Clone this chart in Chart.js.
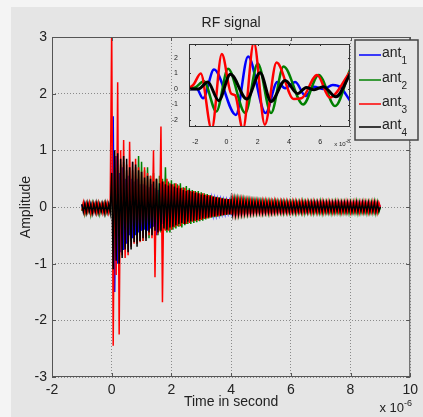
<!DOCTYPE html>
<html>
<head>
<meta charset="utf-8">
<script src="https://cdn.jsdelivr.net/npm/chart.js@4.4.1/dist/chart.umd.min.js"></script>
<style>
  html, body { margin: 0; padding: 0; background: #e5e5e5; }
  #wrap { position: relative; width: 423px; height: 417px; overflow: hidden; }
  .strip { position: absolute; background: #f4f4f4; }
  #main { position: absolute; left: 0; top: 0; }
  #inset { position: absolute; left: 170px; top: 36px; }
</style>
</head>
<body>
<div id="wrap">
  <div class="strip" style="left:0;top:0;width:11px;height:417px"></div>
  <div class="strip" style="left:0;top:0;width:423px;height:7px"></div>
  <canvas id="main" width="423" height="417"></canvas>
  <canvas id="inset" width="185" height="118"></canvas>
</div>
<script>
// ---- data ----
const names = ['ant1', 'ant2', 'ant3', 'ant4'];
const colors = ['#0000ff', '#008000', '#ff0000', '#000000'];

const xTicks = [-2, 0, 2, 4, 6, 8, 10];
const yTicks = [-3, -2, -1, 0, 1, 2, 3];

// traces sampled every 0.05 us starting at -1 us
const T0 = -1, DT = 0.05;

const ant1 = [
  0.04,-0.06,0.05,-0.07,0.04,-0.06,0.05,-0.05,0.04,-0.07,0.05,-0.06,0.04,-0.06,0.05,-0.07,0.04,-0.05,0.05,-0.06,
  0.2,1.6,-1.5,0.9,-1.0,0.6,-0.8,0.7,-0.76,0.5,-0.65,0.55,-0.5,0.5,-0.55,0.45,-0.5,0.5,-0.45,0.4,
  -0.42,0.4,-0.4,0.38,-0.42,0.35,-0.38,0.4,-0.35,0.33,-0.5,0.3,-0.32,0.32,-0.3,0.3,-0.28,0.3,-0.3,0.28,
  -0.26,0.27,-0.25,0.26,-0.24,0.25,-0.22,0.24,-0.22,0.22,-0.2,0.22,-0.2,0.2,-0.19,0.2,-0.18,0.19,-0.17,0.18,
  -0.16,0.16,-0.15,0.15,-0.14,0.14,-0.13,0.13,-0.12,0.12,-0.12,0.11,-0.11,0.11,-0.1,0.1,-0.1,0.1,-0.09,0.09,
  -0.09,0.09,-0.08,0.09,-0.08,0.08,-0.08,0.08,-0.07,0.08,-0.07,0.07,-0.07,0.07,-0.07,0.07,-0.06,0.07,-0.06,0.07,
  -0.06,0.06,-0.07,0.06,-0.06,0.07,-0.06,0.06,-0.07,0.06,-0.06,0.07,-0.06,0.06,-0.07,0.06,-0.06,0.07,-0.06,0.06,
  -0.07,0.06,-0.06,0.07,-0.06,0.06,-0.07,0.06,-0.06,0.06,-0.07,0.06,-0.06,0.07,-0.06,0.06,-0.06,0.07,-0.06,0.06,
  -0.06,0.07,-0.06,0.06,-0.07,0.06,-0.06,0.06,-0.07,0.06,-0.06,0.07,-0.06,0.06,-0.07,0.06,-0.06,0.06,-0.07,0.06,
  -0.06,0.06,-0.07,0.06,-0.06,0.07,-0.06,0.06,-0.06,0.07,-0.06,0.06,-0.07,0.06,-0.06,0.06,-0.07,0.06,-0.06,0.06,
  0
];
const ant2 = [
  -0.07,0.06,-0.12,0.05,-0.08,0.06,-0.13,0.07,-0.06,0.05,-0.1,0.06,-0.12,0.05,-0.07,0.06,-0.11,0.05,-0.08,0.06,
  0.3,-0.5,0.7,-0.8,0.6,-0.7,0.75,-0.6,0.8,-0.7,0.65,-0.75,0.7,-0.6,0.65,-0.55,0.7,-0.65,0.9,-0.6,
  0.8,-0.6,0.65,-0.5,0.7,-0.55,0.55,-0.5,0.6,-0.45,0.5,-0.5,0.55,-0.45,0.5,-0.4,0.7,-0.45,0.45,-0.45,
  0.47,-0.4,0.42,-0.38,0.4,-0.35,0.42,-0.36,0.35,-0.32,0.37,-0.3,0.33,-0.3,0.3,-0.28,0.28,-0.27,0.28,-0.25,
  0.26,-0.24,0.24,-0.22,0.23,-0.2,0.21,-0.19,0.19,-0.18,0.18,-0.17,0.17,-0.16,0.16,-0.15,0.15,-0.14,0.14,-0.13,
  0.14,-0.13,0.13,-0.12,0.13,-0.12,0.12,-0.11,0.12,-0.11,0.11,-0.11,0.11,-0.1,0.1,-0.1,0.1,-0.1,0.1,-0.09,
  0.09,-0.1,0.09,-0.09,0.09,-0.1,0.09,-0.09,0.08,-0.09,0.09,-0.09,0.08,-0.09,0.08,-0.1,0.08,-0.09,0.08,-0.09,
  0.08,-0.09,0.08,-0.1,0.08,-0.09,0.08,-0.09,0.09,-0.1,0.08,-0.09,0.08,-0.09,0.08,-0.1,0.08,-0.09,0.08,-0.09,
  0.09,-0.1,0.08,-0.09,0.08,-0.09,0.08,-0.1,0.08,-0.09,0.09,-0.09,0.08,-0.1,0.08,-0.09,0.08,-0.09,0.08,-0.1,
  0.08,-0.09,0.08,-0.09,0.09,-0.1,0.08,-0.09,0.08,-0.09,0.08,-0.1,0.08,-0.09,0.08,-0.09,0.09,-0.1,0.08,-0.09,
  0
];
const ant3 = [
  -0.06,0.08,-0.1,0.06,-0.08,0.07,-0.11,0.05,-0.09,0.06,-0.1,0.07,-0.08,0.05,-0.1,0.06,-0.09,0.07,-0.1,0.05,
  3.2,-2.45,0.9,-1.2,2.2,-2.25,1.0,-0.85,1.18,-0.9,0.75,-0.85,1.15,-0.7,0.8,-0.65,0.85,-0.65,0.7,-0.62,
  0.62,-0.6,0.7,-0.55,0.6,-0.5,0.55,-0.55,1.0,-1.24,0.5,-0.45,-0.4,1.42,-1.68,0.45,-0.42,0.5,-0.42,0.42,
  -0.4,0.4,-0.36,0.42,-0.34,0.38,-0.34,0.34,-0.3,0.34,-0.3,0.3,-0.28,0.28,-0.26,0.28,-0.25,0.26,-0.24,0.24,
  -0.23,0.24,-0.21,0.22,-0.2,0.21,-0.19,0.2,-0.17,0.18,-0.17,0.17,-0.16,0.16,-0.15,0.15,-0.14,0.15,-0.13,0.14,
  -0.13,0.13,-0.12,0.12,-0.12,0.12,-0.11,0.12,-0.11,0.11,-0.1,0.11,-0.1,0.1,-0.1,0.1,-0.09,0.1,-0.09,0.09,
  -0.1,0.1,-0.09,0.1,-0.09,0.09,-0.1,0.09,-0.09,0.1,-0.09,0.09,-0.08,0.09,-0.09,0.09,-0.08,0.09,-0.09,0.08,
  -0.09,0.09,-0.08,0.09,-0.09,0.08,-0.08,0.09,-0.09,0.08,-0.08,0.09,-0.08,0.08,-0.09,0.09,-0.08,0.08,-0.09,0.08,
  -0.08,0.09,-0.09,0.08,-0.08,0.09,-0.08,0.08,-0.09,0.08,-0.08,0.09,-0.08,0.08,-0.09,0.08,-0.08,0.09,-0.08,0.08,
  -0.09,0.08,-0.08,0.09,-0.08,0.08,-0.09,0.08,-0.08,0.09,-0.08,0.08,-0.09,0.08,-0.08,0.09,-0.08,0.08,-0.09,0.08,
  0
];
const ant4 = [
  0.05,-0.09,0.06,-0.1,0.07,-0.08,0.05,-0.11,0.06,-0.09,0.07,-0.1,0.05,-0.08,0.06,-0.11,0.07,-0.09,0.05,-0.1,
  0.6,-1.1,1.0,-0.95,0.95,-1.0,0.85,-0.9,0.9,-0.75,0.85,-0.8,0.7,-0.75,0.8,-0.62,0.75,-0.7,0.65,-0.6,
  0.62,-0.55,0.52,-0.6,0.55,-0.45,0.5,-0.5,0.45,-0.42,0.5,-0.45,0.42,-0.42,0.45,-0.38,0.4,-0.4,0.38,-0.36,
  0.4,-0.35,0.36,-0.32,0.34,-0.3,0.33,-0.28,0.3,-0.3,0.28,-0.26,0.3,-0.25,0.27,-0.24,0.25,-0.23,0.24,-0.21,
  0.22,-0.2,0.21,-0.19,0.2,-0.18,0.19,-0.17,0.18,-0.16,0.17,-0.15,0.16,-0.15,0.15,-0.14,0.14,-0.13,0.14,-0.13,
  0.13,-0.12,0.12,-0.12,0.12,-0.11,0.11,-0.11,0.11,-0.1,0.1,-0.1,0.1,-0.1,0.1,-0.09,0.09,-0.09,0.09,-0.09,
  0.09,-0.09,0.08,-0.09,0.08,-0.08,0.08,-0.09,0.08,-0.08,0.08,-0.08,0.07,-0.08,0.08,-0.08,0.07,-0.08,0.07,-0.08,
  0.07,-0.08,0.07,-0.08,0.07,-0.07,0.07,-0.08,0.07,-0.07,0.07,-0.08,0.07,-0.07,0.07,-0.08,0.07,-0.07,0.07,-0.08,
  0.07,-0.08,0.07,-0.07,0.07,-0.08,0.07,-0.07,0.07,-0.08,0.07,-0.07,0.07,-0.08,0.07,-0.07,0.07,-0.08,0.07,-0.07,
  0.07,-0.08,0.06,-0.07,0.07,-0.08,0.06,-0.07,0.07,-0.08,0.06,-0.07,0.07,-0.08,0.06,-0.07,0.07,-0.08,0.06,-0.07,
  0
];

// inset: first 10 ns of the pulse (x in 1e-8 s)
const insetXTicks = [-2, 0, 2, 4, 6];
const insetYTicks = [-2, -1, 0, 1, 2];
const insetT1 = [-2.4, -1.9, -1.5, -0.8, 0.6, 1.38, 2.5, 3.25, 3.75, 4.4, 5.05, 5.6, 6.2, 6.8, 7.3, 7.9];
const insetA1 = [0, 0, -0.6, 1.25, -1.67, 2.1, -1.55, 0.45, 0.05, 0.45, -0.45, 0.15, 0, 0.25, 0.1, -0.75];
const insetT2 = [-2.4, -2.0, -1.45, -0.65, 0.1, 1.2, 2.0, 2.85, 3.65, 4.9, 5.9, 6.95, 7.9];
const insetA2 = [0, 0.1, 0.5, -1.45, 1.3, -1.55, 1.65, -1.55, 1.45, -1.0, 0.9, -1.1, 1.25];
const insetT3 = [-2.4, -2.1, -1.65, -0.95, -0.3, 0.3, 0.55, 1.05, 1.75, 2.45, 3.2, 4.3, 4.8, 5.8, 6.6, 7.9];
const insetA3 = [0.05, 0.3, 1.0, -2.6, 2.25, -0.3, -0.4, -2.6, 3.0, -2.3, 1.7, -0.65, -0.6, 0.9, -0.55, 1.1];
const insetT4 = [-2.4, -1.8, -1.2, -0.5, 0.25, 1.3, 2.15, 2.85, 3.75, 4.55, 5.1, 5.6, 6.2, 7.0, 7.9];
const insetA4 = [0, 0, 0.45, -0.75, 0.95, -0.65, 1.05, -0.8, 0.55, -0.3, 0.1, -0.05, 0.15, -0.5, 0.95];

// ---- drawing ----
const FONT = '"Liberation Sans", Arial, sans-serif';
const BG = '#e5e5e5';
const TXT = '#222';

function fixTicks(vals) {
  return function (scale) { scale.ticks = vals.map(v => ({ value: v })); };
}

function supText(ctx, x, y, base, sup, size, supSize, align) {
  ctx.font = size + 'px ' + FONT;
  const w1 = ctx.measureText(base).width;
  ctx.font = supSize + 'px ' + FONT;
  const w2 = ctx.measureText(sup).width;
  const left = align === 'right' ? x - w1 - w2 : x;
  ctx.textAlign = 'left';
  ctx.font = size + 'px ' + FONT;
  ctx.fillText(base, left, y);
  ctx.font = supSize + 'px ' + FONT;
  ctx.fillText(sup, left + w1, y - size * 0.45);
}

function boxAndTicks(chart, xv, yv, len, color, width) {
  const { ctx, chartArea: a, scales } = chart;
  ctx.save();
  ctx.strokeStyle = color;
  ctx.lineWidth = width;
  ctx.strokeRect(a.left + 0.5, a.top + 0.5, a.right - a.left - 1, a.bottom - a.top - 1);
  ctx.beginPath();
  xv.forEach(v => {
    const p = Math.round(scales.x.getPixelForValue(v)) + 0.5;
    ctx.moveTo(p, a.bottom); ctx.lineTo(p, a.bottom - len);
    ctx.moveTo(p, a.top); ctx.lineTo(p, a.top + len);
  });
  yv.forEach(v => {
    const p = Math.round(scales.y.getPixelForValue(v)) + 0.5;
    ctx.moveTo(a.left, p); ctx.lineTo(a.left + len, p);
    ctx.moveTo(a.right, p); ctx.lineTo(a.right - len, p);
  });
  ctx.stroke();
  ctx.restore();
}

const mainDecor = {
  id: 'mainDecor',
  afterDraw(chart) {
    const ctx = chart.ctx;
    const a = chart.chartArea;
    boxAndTicks(chart, xTicks, yTicks, 4, '#555', 1);
    ctx.save();
    ctx.fillStyle = TXT;
    ctx.textBaseline = 'alphabetic';
    ctx.textAlign = 'center';
    ctx.font = '14px ' + FONT;
    ctx.fillText('RF signal', (a.left + a.right) / 2, 27);
    ctx.fillText('Time in second', (a.left + a.right) / 2, 406);
    ctx.save();
    ctx.translate(30, (a.top + a.bottom) / 2);
    ctx.rotate(-Math.PI / 2);
    ctx.fillText('Amplitude', 0, 0);
    ctx.restore();
    supText(ctx, 412, 412, 'x 10', '-6', 13, 9, 'right');

    // legend
    const lx = 355, ly = 40, lw = 63, lh = 100;
    ctx.fillStyle = BG;
    ctx.fillRect(lx, ly, lw, lh);
    ctx.strokeStyle = '#444';
    ctx.lineWidth = 1.5;
    ctx.strokeRect(lx, ly, lw, lh);
    const rows = [55, 80, 104, 127];
    names.forEach((n, i) => {
      const y = rows[i];
      ctx.strokeStyle = colors[i];
      ctx.lineWidth = 1.5;
      ctx.beginPath();
      ctx.moveTo(359, y); ctx.lineTo(381, y);
      ctx.stroke();
      ctx.fillStyle = TXT;
      ctx.textAlign = 'left';
      ctx.font = '14px ' + FONT;
      ctx.fillText('ant', 382, y + 2);
      const w = ctx.measureText('ant').width;
      ctx.font = '10px ' + FONT;
      ctx.fillText(n.slice(3), 382 + w, y + 9);
    });
    ctx.restore();
  }
};

const insetDecor = {
  id: 'insetDecor',
  beforeDraw(chart) {
    const a = chart.chartArea;
    chart.ctx.save();
    chart.ctx.fillStyle = BG;
    chart.ctx.fillRect(a.left, a.top, a.right - a.left, a.bottom - a.top);
    chart.ctx.restore();
  },
  afterDraw(chart) {
    const a = chart.chartArea;
    boxAndTicks(chart, insetXTicks, insetYTicks, 2, '#333', 1);
    const ctx = chart.ctx;
    ctx.save();
    ctx.fillStyle = TXT;
    supText(ctx, a.right, 110, 'x 10', '-8', 6, 5, 'right');
    ctx.restore();
  }
};

const mainTraces = [ant1, ant2, ant3, ant4];
new Chart(document.getElementById('main'), {
  type: 'line',
  data: {
    datasets: mainTraces.map((vals, i) => ({
      label: names[i],
      data: vals.map((v, k) => ({ x: +(T0 + k * DT).toFixed(3), y: v })),
      borderColor: colors[i],
      borderWidth: 1.5,
      pointRadius: 0,
      tension: 0,
      order: 3 - i
    }))
  },
  options: {
    responsive: false,
    animation: false,
    devicePixelRatio: 1,
    layout: { padding: { top: 37, right: 8, left: 0, bottom: 0 } },
    plugins: { legend: { display: false }, tooltip: { enabled: false } },
    scales: {
      x: {
        type: 'linear', min: -2, max: 10,
        afterBuildTicks: fixTicks(xTicks),
        afterFit: s => { s.height = 40; },
        grid: { color: '#8a8a8a', drawTicks: false },
        border: { display: false, dash: [1, 2] },
        ticks: { padding: 5, color: TXT, font: { family: FONT, size: 14 }, maxRotation: 0, autoSkip: false }
      },
      y: {
        type: 'linear', min: -3, max: 3,
        afterBuildTicks: fixTicks(yTicks),
        afterFit: s => { s.width = 52; },
        grid: { color: '#8a8a8a', drawTicks: false },
        border: { display: false, dash: [1, 2] },
        ticks: { padding: 5, color: TXT, font: { family: FONT, size: 14 }, autoSkip: false }
      }
    }
  },
  plugins: [mainDecor]
});

const insetT = [insetT1, insetT2, insetT3, insetT4];
const insetA = [insetA1, insetA2, insetA3, insetA4];
new Chart(document.getElementById('inset'), {
  type: 'line',
  data: {
    datasets: insetT.map((ts, i) => ({
      label: names[i],
      data: ts.map((t, k) => ({ x: t, y: insetA[i][k] })),
      borderColor: colors[i],
      borderWidth: i === 3 ? 3 : 2.5,
      pointRadius: 0,
      cubicInterpolationMode: 'monotone',
      order: 3 - i
    }))
  },
  options: {
    responsive: false,
    animation: false,
    devicePixelRatio: 1,
    layout: { padding: { top: 8, right: 5, left: 0, bottom: 0 } },
    plugins: { legend: { display: false }, tooltip: { enabled: false } },
    scales: {
      x: {
        type: 'linear', min: -2.4, max: 7.9,
        afterBuildTicks: fixTicks(insetXTicks),
        afterFit: s => { s.height = 27; },
        grid: { display: false },
        border: { display: false },
        ticks: { padding: 3, color: TXT, font: { family: FONT, size: 7 }, maxRotation: 0, autoSkip: false }
      },
      y: {
        type: 'linear', min: -2.45, max: 2.9,
        afterBuildTicks: fixTicks(insetYTicks),
        afterFit: s => { s.width = 19; },
        grid: { display: false },
        border: { display: false },
        ticks: { padding: 3, color: TXT, font: { family: FONT, size: 7 }, autoSkip: false }
      }
    }
  },
  plugins: [insetDecor]
});
</script>
</body>
</html>
